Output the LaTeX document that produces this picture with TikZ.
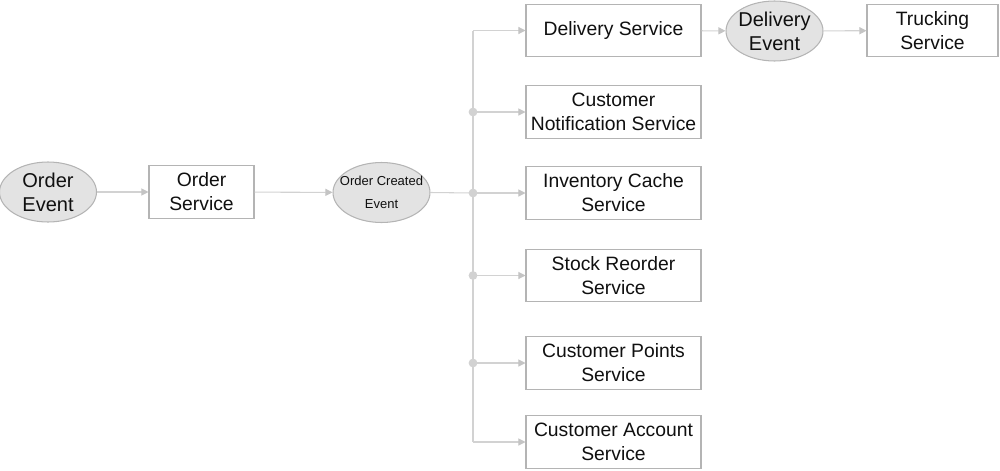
\documentclass[tikz,border=0pt]{standalone}
\usepackage{fontspec}
\setmainfont{Liberation Sans}
\usetikzlibrary{shapes.geometric,arrows.meta,positioning}
\definecolor{bdgray}{HTML}{B4B4B4}
\definecolor{lngray}{HTML}{D2D2D2}
\definecolor{tipgray}{HTML}{C4C4C4}
\definecolor{evfill}{HTML}{E3E3E3}
\definecolor{txtblk}{HTML}{101010}
\tikzset{
  svc/.style={rectangle,draw=bdgray,fill=white,line width=0.6pt,
              minimum width=#1,minimum height=1.05cm,inner sep=0pt,
              font=\fontsize{11}{13.6}\selectfont,align=center,text=txtblk},
  svc/.default=3.5cm,
  evt/.style={ellipse,draw=bdgray,fill=evfill,line width=0.6pt,
              minimum width=1.94cm,minimum height=1.2cm,inner sep=0pt},
  evtxt/.style={font=\fontsize{11.4}{13.6}\selectfont,align=center,
                text=txtblk,inner sep=0pt},
  arr/.style={-{Triangle[length=4pt,width=4pt,color=tipgray]},line width=0.6pt,color=lngray},
  ln/.style={line width=0.6pt,color=lngray},
  jdot/.style={circle,fill=lngray,inner sep=0pt,minimum size=5pt},
}
\begin{document}
\begin{tikzpicture}[x=0.02cm,y=-0.02cm]
  \useasboundingbox (0,0) rectangle (1000,470);

  % left chain
  \node[evt] (ordevt) at (48,192) {};
  \node[evtxt] at (ordevt) {Order\\Event};
  \node[svc=2.1cm] (ordsvc) at (201.5,192) {Order\\Service};
  \node[evt] (ocevt) at (381.5,192.5) {};
  \node[evtxt,font=\fontsize{7.4}{13}\selectfont] at (ocevt) {Order Created\\Event};

  % consumers
  \node[svc] (dlvsvc) at (613.5,30.5) {Delivery Service};
  \node[svc] (notsvc) at (613.5,112) {Customer\\Notification Service};
  \node[svc] (invsvc) at (613.5,193) {Inventory Cache\\Service};
  \node[svc] (stksvc) at (613.5,275.5) {Stock Reorder\\Service};
  \node[svc] (ptssvc) at (613.5,363) {Customer Points\\Service};
  \node[svc] (accsvc) at (613.5,442) {Customer Account\\Service};

  % delivery chain
  \node[evt] (dlvevt) at (774.5,31) {};
  \node[evtxt] at (dlvevt) {Delivery\\Event};
  \node[svc=2.62cm] (trksvc) at (932.5,30.5) {Trucking\\Service};

  % bus
  \coordinate (jtop) at (473,30.5);
  \coordinate (jbot) at (473,442);
  \coordinate (jmid) at (473,193);

  \draw[arr] (ordevt) -- (ordsvc);
  \draw[arr] (ordsvc) -- (ocevt);
  \draw[ln] (ocevt.east) -- (jmid);
  \draw[ln] (jtop) -- (jbot);
  \draw[arr] (jtop) -- (dlvsvc.west);
  \draw[arr] (jbot) -- (accsvc.west);
  \foreach \s in {notsvc,invsvc,stksvc,ptssvc}{
    \draw[arr] (\s.west -| jtop) -- (\s.west);
    \node[jdot] at (\s.west -| jtop) {};
  }
  \draw[arr] (dlvsvc) -- (dlvevt);
  \draw[arr] (dlvevt) -- (trksvc);
\end{tikzpicture}
\end{document}
